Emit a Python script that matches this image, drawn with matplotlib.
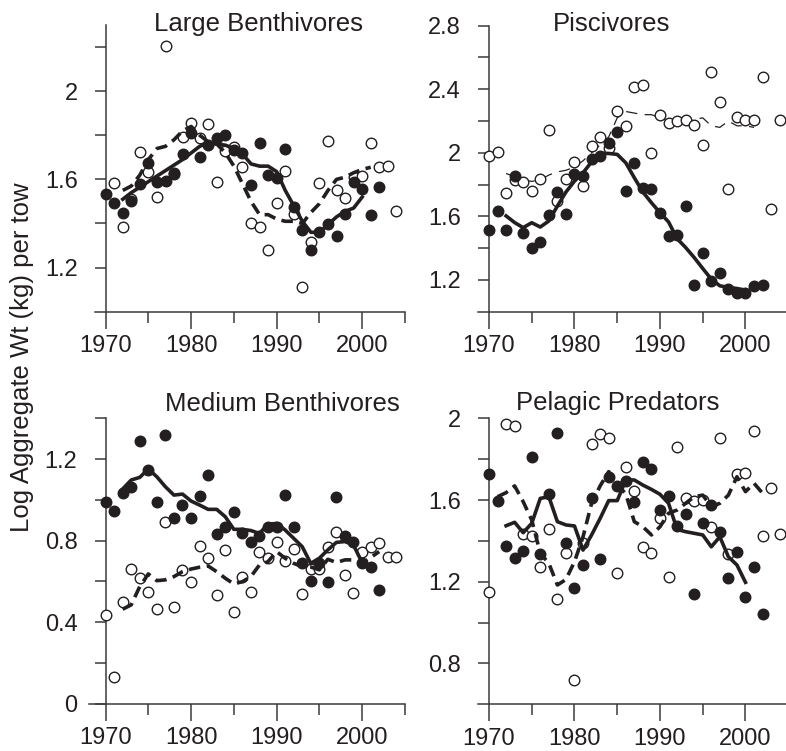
import numpy as np
import matplotlib
matplotlib.use("Agg")
import matplotlib.pyplot as plt
from matplotlib.ticker import FixedLocator, FuncFormatter

plt.rcParams['font.family'] = ['Liberation Sans', 'DejaVu Sans']

INK = "#231f20"

# ====== DATA ======
# --- Large Benthivores ---
lb_fill_yr = list(range(1970, 2003))
lb_fill = [1.534, 1.494, 1.449, 1.50, 1.577, 1.672, 1.586, 1.592, 1.623, 1.713, 1.811,
           1.703, 1.758, 1.786, 1.80, 1.735, 1.718, 1.574, 1.764, 1.621, 1.605, 1.738,
           1.477, 1.37, 1.28, 1.362, 1.397, 1.344, 1.445, 1.589, 1.556, 1.44, 1.564]
lb_open_yr = list(range(1971, 2005))
lb_open = [1.582, 1.386, 1.511, 1.722, 1.632, 1.521, 2.205, 1.63, 1.793, 1.854, 1.786,
           1.849, 1.589, 1.73, 1.745, 1.657, 1.40, 1.385, 1.279, 1.492, 1.639, 1.445,
           1.114, 1.318, 1.583, 1.776, 1.553, 1.514, 1.609, 1.614, 1.764, 1.655, 1.659, 1.455]
lb_solid_yr = list(range(1972, 2001))
lb_solid = [1.51, 1.54, 1.565, 1.59, 1.615, 1.64, 1.665, 1.69, 1.72, 1.75, 1.765, 1.76,
            1.755, 1.74, 1.715, 1.67, 1.66, 1.66, 1.635, 1.55, 1.48, 1.41, 1.36, 1.36,
            1.395, 1.43, 1.455, 1.47, 1.52]
lb_dash_yr = list(range(1972, 2002))
lb_dash = [1.55, 1.57, 1.62, 1.69, 1.74, 1.75, 1.78, 1.82, 1.84, 1.80, 1.77, 1.76, 1.72,
           1.66, 1.58, 1.50, 1.44, 1.44, 1.42, 1.41, 1.41, 1.40, 1.45, 1.49, 1.55, 1.60,
           1.61, 1.63, 1.645, 1.655]

# --- Piscivores ---
pi_fill_yr = list(range(1970, 2003))
pi_fill = [1.515, 1.632, 1.513, 1.854, 1.498, 1.40, 1.441, 1.607, 1.753, 1.613, 1.864,
           1.854, 1.958, 1.983, 2.063, 2.132, 1.759, 1.937, 1.78, 1.774, 1.623, 1.477,
           1.481, 1.665, 1.169, 1.368, 1.195, 1.243, 1.142, 1.117, 1.117, 1.163, 1.167]
pi_open_yr = list(range(1970, 2005))
pi_open = [1.979, 2.004, 1.749, 1.83, 1.816, 1.759, 1.837, 2.142, 1.697, 1.833, 1.941,
           1.791, 2.046, 2.10, 2.031, 2.262, 2.167, 2.414, 2.429, 2.0, 2.241, 2.188,
           2.199, 2.209, 2.172, 2.048, 2.506, 2.32, 1.774, 2.226, 2.209, 2.205, 2.477,
           1.644, 2.205]
pi_solid_yr = list(range(1972, 2001))
pi_solid = [1.603, 1.561, 1.529, 1.56, 1.533, 1.571, 1.665, 1.753, 1.822, 1.874, 1.943,
            1.996, 1.996, 1.99, 1.937, 1.843, 1.753, 1.686, 1.623, 1.565, 1.46, 1.404,
            1.341, 1.272, 1.205, 1.163, 1.153, 1.146, 1.136]
pi_dash_yr = list(range(1972, 2002))
pi_dash = [1.87, 1.85, 1.83, 1.82, 1.83, 1.86, 1.88, 1.89, 1.91, 1.95, 2.00, 2.05, 2.10,
           2.22, 2.26, 2.25, 2.24, 2.24, 2.22, 2.20, 2.20, 2.20, 2.21, 2.22, 2.17, 2.16,
           2.20, 2.17, 2.17, 2.16]

# --- Medium Benthivores ---
mb_fill_yr = list(range(1970, 2003))
mb_fill = [0.991, 0.947, 1.032, 1.061, 1.29, 1.146, 0.989, 1.318, 0.912, 0.974, 0.909,
           1.019, 1.12, 0.831, 0.868, 0.938, 0.835, 0.791, 0.824, 0.868, 0.868, 1.023,
           0.868, 0.692, 0.603, 0.692, 0.595, 1.015, 0.824, 0.795, 0.688, 0.669, 0.558]
mb_open_yr = list(range(1970, 2005))
mb_open = [0.435, 0.129, 0.497, 0.659, 0.615, 0.549, 0.463, 0.893, 0.473, 0.656, 0.595,
           0.775, 0.716, 0.533, 0.754, 0.451, 0.62, 0.546, 0.746, 0.713, 0.795, 0.701,
           0.757, 0.538, 0.659, 0.659, 0.77, 0.844, 0.631, 0.541, 0.746, 0.77, 0.786,
           0.718, 0.721]
mb_solid_yr = list(range(1972, 2001))
mb_solid = [1.053, 1.097, 1.11, 1.151, 1.113, 1.064, 1.023, 1.028, 0.994, 0.974, 0.953,
            0.953, 0.917, 0.855, 0.855, 0.849, 0.835, 0.88, 0.884, 0.852, 0.811, 0.77,
            0.688, 0.713, 0.754, 0.791, 0.795, 0.778, 0.692]
mb_dash_yr = list(range(1972, 2003))
mb_dash = [0.463, 0.484, 0.574, 0.636, 0.603, 0.607, 0.623, 0.647, 0.66, 0.669, 0.675,
           0.647, 0.615, 0.587, 0.598, 0.623, 0.68, 0.696, 0.746, 0.713, 0.688, 0.672,
           0.67, 0.656, 0.708, 0.692, 0.705, 0.705, 0.688, 0.716, 0.746]

# --- Pelagic Predators ---
pp_fill_yr = list(range(1970, 2003))
pp_fill = [1.727, 1.595, 1.376, 1.314, 1.35, 1.809, 1.336, 1.628, 1.93, 1.388, 1.167,
           1.282, 1.611, 1.309, 1.711, 1.669, 1.695, 1.589, 1.788, 1.752, 1.551, 1.62,
           1.473, 1.531, 1.14, 1.486, 1.576, 1.442, 1.216, 1.347, 1.127, 1.27, 1.042]
pp_open_yr = [1970] + list(range(1972, 2005))
pp_open = [1.151, 1.971, 1.964, 1.433, 1.425, 1.273, 1.458, 1.115, 1.342, 0.718, 1.391,
           1.874, 1.923, 1.902, 1.244, 1.763, 1.646, 1.371, 1.339, 1.51, 1.221, 1.861,
           1.608, 1.595, 1.6, 1.469, 1.902, 1.336, 1.727, 1.734, 1.94, 1.424, 1.657, 1.432]
pp_solid_yr = list(range(1972, 2001))
pp_solid = [1.474, 1.491, 1.44, 1.486, 1.608, 1.616, 1.494, 1.478, 1.473, 1.355, 1.429,
            1.51, 1.597, 1.597, 1.698, 1.698, 1.673, 1.652, 1.628, 1.584, 1.456, 1.445,
            1.437, 1.429, 1.371, 1.42, 1.322, 1.282, 1.197]
pp_dash_yr = list(range(1971, 2003))
pp_dash = [1.616, 1.636, 1.669, 1.592, 1.502, 1.339, 1.29, 1.184, 1.211, 1.298, 1.42,
           1.584, 1.669, 1.739, 1.678, 1.629, 1.494, 1.469, 1.429, 1.469, 1.535, 1.551,
           1.584, 1.616, 1.624, 1.567, 1.584, 1.624, 1.714, 1.641, 1.682, 1.633]

# ====== LAYOUT (pixels of a 786x751 figure) ======
W, H = 786, 751


def make_axes(fig, left_px, top_px, bottom_px, x0):
    # x scale ~8.55 px per year, axis runs to 2005
    width_px = (2005 - x0) * 8.55
    return fig.add_axes([left_px / W, 1 - bottom_px / H,
                         width_px / W, (bottom_px - top_px) / H])


def fmt(v, pos):
    return f"{v:g}"


def panel(ax, x0, ylim, ymajor, yminor, fill, opn, solid, dash, thin_dash=False):
    fy, fv = fill
    oy, ov = opn
    sy, sv = solid
    dy, dv = dash

    if thin_dash:
        ax.plot(dy, dv, color=INK, lw=0.9, dashes=(9, 6), zorder=2)
    else:
        ax.plot(dy, dv, color=INK, lw=2.6, dashes=(3.2, 1.8), zorder=5)
    ax.plot(sy, sv, color=INK, lw=2.6, zorder=5, solid_joinstyle='round')

    ax.plot(oy, ov, 'o', ms=7.6, mfc='white', mec=INK, mew=1.0, zorder=3, clip_on=False)
    ax.plot(fy, fv, 'o', ms=7.6, mfc=INK, mec=INK, mew=1.0, zorder=4, clip_on=False)

    ax.set_xlim(x0, 2005)
    ax.set_ylim(*ylim)
    for s in ('top', 'right'):
        ax.spines[s].set_visible(False)
    ax.spines['left'].set_position(('data', 1970))
    for s in ('left', 'bottom'):
        ax.spines[s].set_color("#3a3a3a")
        ax.spines[s].set_linewidth(1.1)

    ax.xaxis.set_major_locator(FixedLocator([1970, 1980, 1990, 2000]))
    ax.xaxis.set_minor_locator(FixedLocator([1975, 1985, 1995, 2005]))
    ax.yaxis.set_major_locator(FixedLocator(ymajor))
    ax.yaxis.set_minor_locator(FixedLocator(yminor))
    ax.yaxis.set_major_formatter(FuncFormatter(fmt))

    ax.tick_params(axis='x', which='major', direction='out', length=12, width=1.1,
                   color="#3a3a3a", pad=5, labelsize=17, labelcolor=INK)
    ax.tick_params(axis='x', which='minor', direction='out', length=8, width=1.1,
                   color="#3a3a3a")
    ax.tick_params(axis='y', which='both', direction='out', length=7.7, width=1.1,
                   color="#3a3a3a", pad=12.5, labelsize=17, labelcolor=INK)
    ax.patch.set_alpha(0)


def main():
    fig = plt.figure(figsize=(W / 100, H / 100), dpi=100)

    ax1 = make_axes(fig, 95, 25, 311.7, 1968.75)
    panel(ax1, 1968.75, (1.0, 2.3), [1.2, 1.6, 2.0], [1.4, 1.8, 2.2],
          (lb_fill_yr, lb_fill), (lb_open_yr, lb_open),
          (lb_solid_yr, lb_solid), (lb_dash_yr, lb_dash))

    ax2 = make_axes(fig, 478.3, 25.7, 311.7, 1968.75)
    panel(ax2, 1968.75, (1.0, 2.8), [1.2, 1.6, 2.0, 2.4, 2.8], [1.4, 1.8, 2.2, 2.6],
          (pi_fill_yr, pi_fill), (pi_open_yr, pi_open),
          (pi_solid_yr, pi_solid), (pi_dash_yr, pi_dash), thin_dash=True)

    ax3 = make_axes(fig, 89.3, 418.3, 703.5, 1968.1)
    panel(ax3, 1968.1, (0.0, 1.4), [0.0, 0.4, 0.8, 1.2], [0.2, 0.6, 1.0, 1.4],
          (mb_fill_yr, mb_fill), (mb_open_yr, mb_open),
          (mb_solid_yr, mb_solid), (mb_dash_yr, mb_dash))

    ax4 = make_axes(fig, 478.3, 418.3, 704.3, 1968.75)
    panel(ax4, 1968.75, (0.6, 2.0), [0.8, 1.2, 1.6, 2.0], [1.0, 1.4, 1.8],
          (pp_fill_yr, pp_fill), (pp_open_yr, pp_open),
          (pp_solid_yr, pp_solid), (pp_dash_yr, pp_dash))

    # panel titles
    tkw = dict(fontsize=18.5, color=INK, ha='center', va='baseline')
    fig.text(259 / W, 1 - 31 / H, "Large Benthivores", **tkw)
    fig.text(612 / W, 1 - 31 / H, "Piscivores", **tkw)
    fig.text(282 / W, 1 - 411 / H, "Medium Benthivores", **tkw)
    fig.text(618 / W, 1 - 410 / H, "Pelagic Predators", **tkw)

    fig.text(22 / W, 1 - 357.5 / H, "Log Aggregate Wt (kg) per tow", rotation=90,
             fontsize=18.5, color=INK, ha='center', va='center')

    fig.savefig("out.png", dpi=100)
    plt.close(fig)


if __name__ == "__main__":
    main()
